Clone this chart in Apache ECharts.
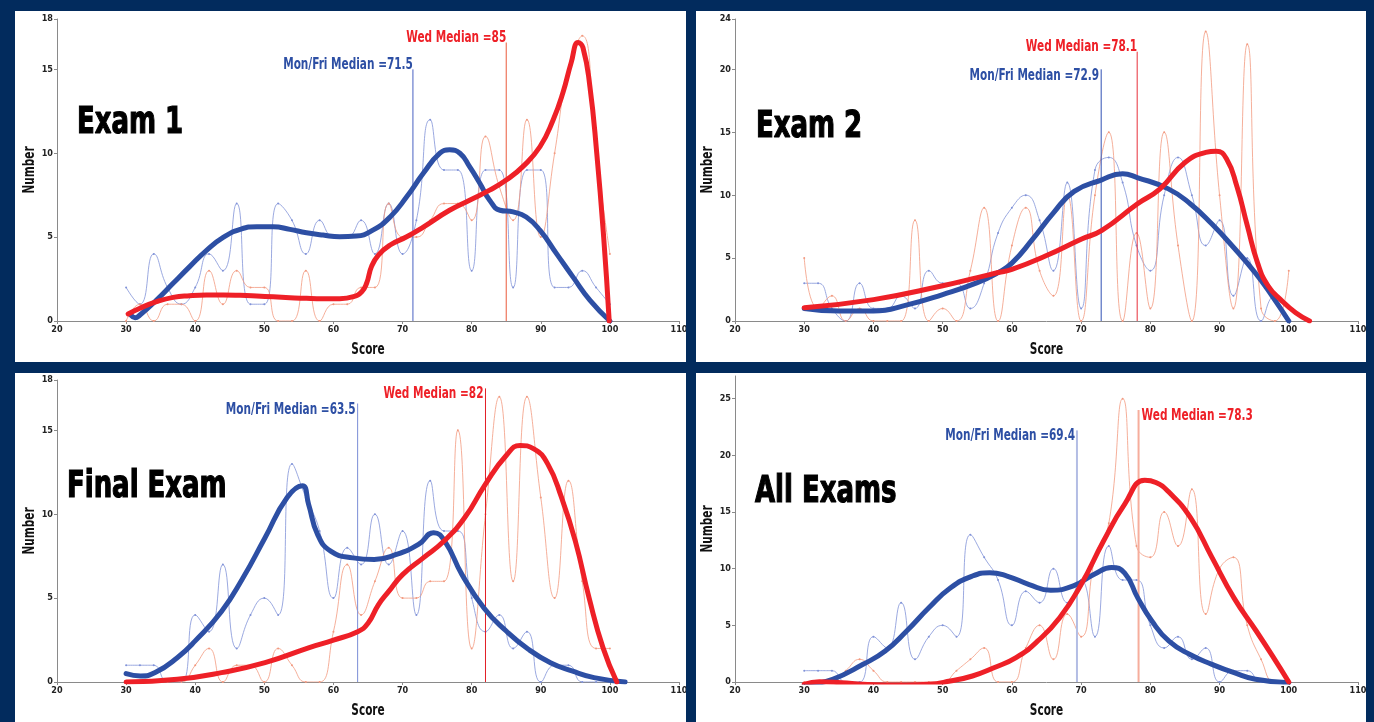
<!DOCTYPE html>
<html>
<head>
<meta charset="utf-8">
<script src="https://cdn.jsdelivr.net/npm/echarts@6/dist/echarts.min.js"></script>
<style>
html,body{margin:0;padding:0;background:#022b5d;width:1374px;height:722px;overflow:hidden}
.p{position:absolute;background:#ffffff}
</style>
</head>
<body>
<div id="c1" class="p" style="left:15px;top:11px;width:671px;height:351px"></div>
<div id="c2" class="p" style="left:696px;top:11px;width:670px;height:351px"></div>
<div id="c3" class="p" style="left:15px;top:373px;width:671px;height:349px"></div>
<div id="c4" class="p" style="left:696px;top:373px;width:670px;height:349px"></div>
<script>
// ---------- DATA ----------
const scoreBins = [30,32,34,36,38,40,42,44,46,48,50,52,54,56,58,60,62,64,66,68,70,72,74,76,78,80,82,84,86,88,90,92,94,96,98,100];

const panelTitles = ['Exam 1', 'Exam 2', 'Final Exam', 'All Exams'];
const yMaxes = [18, 24, 18, 27];
const xAxisName = 'Score';
const yAxisName = 'Number';

// raw counts per score bin (thin lines)
const exam1MonFriCounts = [2,1,4,2,1,2,4,3,7,1,1,7,6,4,6,5,5,6,4,7,4,6,12,9,9,3,9,9,2,9,9,2,2,3,2,1];
const exam1WedCounts    = [0,1,0,1,1,0,3,1,3,2,2,0,0,3,0,1,1,2,2,7,5,5,6,7,7,6,11,8,6,12,5,10,15,17,10,4];
const exam2MonFriCounts = [3,3,1,0,3,1,1,2,1,4,3,3,1,3,7,9,10,8,4,11,1,12,13,11,6,4,10,13,10,6,8,2,5,0,2,1];
const exam2WedCounts    = [5,1,2,0,1,0,0,0,8,0,1,0,4,9,0,6,9,4,2,10,0,10,15,0,7,1,15,6,0,23,10,1,22,1,0,4];
const finalMonFriCounts = [1,1,1,0,0,4,3,7,2,4,5,4,13,11,9,5,8,7,10,7,9,4,12,9,9,5,3,4,2,3,0,1,1,0,0,0];
const finalWedCounts    = [0,0,0,0,0,1,2,0,1,1,0,2,1,0,0,3,7,4,6,8,5,5,6,6,15,2,10,17,6,17,11,5,12,6,2,2];
const allMonFriCounts   = [1,1,1,0,0,4,3,7,2,4,5,4,13,11,9,5,8,7,10,7,9,4,12,9,9,5,3,4,2,3,0,1,1,0,0,0];
const allWedCounts      = [0,0,0,1,2,1,0,0,0,0,0,1,2,3,0,0,3,5,2,6,4,11,14,25,12,11,15,12,17,6,10,11,5,2,0,0];

// smoothed fits (thick lines): [score, number]
const exam1MonFriFit = [[30.7,0.35],[31.3,0.2],[32.0,0.36],[34.4,1.25],[36.8,2.25],[39.2,3.24],[41.6,4.2],[44.1,5.0],[46.5,5.46],[48.9,5.62],[51.3,5.62],[53.7,5.46],[56.1,5.26],[58.5,5.12],[60.9,5.02],[63.3,5.06],[65.7,5.42],[68.2,6.2],[70.6,7.4],[73.0,8.8],[75.4,10.0],[76.8,10.2],[78.3,10.0],[79.7,9.2],[81.2,8.2],[82.6,7.2],[84.1,6.6],[86.0,6.5],[87.9,6.2],[89.9,5.4],[92.3,4.0],[94.7,2.6],[97.1,1.25],[100,0]];
const exam1WedFit = [[30.3,0.42],[32.0,0.76],[34.4,1.15],[36.8,1.41],[39.2,1.51],[41.6,1.55],[44.1,1.55],[46.5,1.53],[48.9,1.49],[51.3,1.44],[53.7,1.39],[56.1,1.35],[58.5,1.33],[60.9,1.33],[62.9,1.45],[64.1,1.75],[64.8,2.25],[65.5,3.24],[66.5,3.93],[68.2,4.53],[70.6,5.02],[73.0,5.6],[76.8,6.6],[79.7,7.2],[82.6,7.8],[85.0,8.4],[87.4,9.2],[89.9,10.4],[91.8,12.0],[93.2,13.6],[94.4,15.4],[95.4,16.6],[96.1,16.3],[97.1,14.0],[98.1,10.0],[99.1,5.0],[99.9,0]];
const exam2MonFriFit = [[30,1.0],[35,0.8],[40,0.8],[45,1.3],[50,2.1],[55,3.05],[58,3.85],[60,4.6],[63,6.5],[66,8.6],[69,10.3],[72.9,11.2],[76,11.7],[78.1,11.4],[82.6,10.5],[85.8,9.3],[88.9,7.7],[92.1,5.8],[95.2,3.8],[97.7,1.9],[100,0]];
const exam2WedFit = [[30,1.06],[40,1.7],[50,2.8],[55,3.45],[58,3.85],[60,4.1],[65,5.2],[70,6.5],[73,7.2],[78.1,9.3],[81.4,10.5],[85,12.6],[88,13.4],[89.5,13.5],[91,12.9],[92.5,10.7],[94,7.6],[95.5,4.6],[97,2.8],[99,1.6],[101,0.66],[103,0]];
const finalMonFriFit = [[30,0.5],[32.1,0.36],[34.2,0.56],[37.4,1.45],[40,2.45],[43.8,4.2],[46.9,6.2],[50.1,8.6],[53.3,11.0],[55.5,11.7],[56.4,10.6],[57.7,8.8],[59.6,7.8],[62.8,7.4],[65.9,7.3],[69.1,7.6],[72.3,8.2],[74.5,8.9],[76.1,8.4],[78.6,6.4],[81.8,4.4],[85.0,3.04],[88.2,1.95],[91.4,1.15],[94.5,0.66],[97.7,0.26],[102.2,0]];
const finalWedFit = [[30,0],[37.4,0.16],[43.8,0.56],[50.1,1.15],[56.5,2.05],[60,2.5],[63.5,3.0],[65,3.5],[66.5,4.6],[68,5.4],[70,6.4],[73,7.4],[76,8.4],[79,9.8],[82,11.8],[85,13.5],[87,14.1],[89,13.9],[91,13.0],[93,11.0],[95,8.4],[97,5.0],[99,2.05],[101,0]];
const allMonFriFit = [[30,-0.3],[34.1,0.24],[38.5,1.56],[41.7,2.73],[44.8,4.5],[48.0,6.55],[51.1,8.3],[54.3,9.35],[56.8,9.64],[59.3,9.35],[62.5,8.6],[65.6,8.1],[68.8,8.46],[71.9,9.5],[74.4,10.1],[76.3,9.6],[78.2,7.4],[80.2,5.4],[82.7,3.6],[85.8,2.4],[88.9,1.56],[92.1,0.82],[95.2,0.24],[100,-0.06]];
const allWedFit = [[30,-0.2],[32.2,0.03],[35.4,-0.06],[38.5,-0.2],[41.7,-0.26],[44.8,-0.26],[48,-0.2],[51.1,0.09],[54.3,0.53],[57.4,1.26],[60.6,2.15],[63.7,3.6],[66.9,5.67],[70.0,8.6],[73.2,12.4],[76.3,15.7],[79.2,17.8],[80.8,17.6],[82.6,16.8],[85.8,14.5],[88.9,11.0],[92.1,7.4],[95.3,4.5],[97.8,2.15],[100,0]];

// medians [Mon/Fri, Wed] and heights of the median marker lines
const exam1Medians = [71.5, 85];
const exam2Medians = [72.9, 78.1];
const finalMedians = [63.5, 82];
const allMedians   = [69.4, 78.3];
const medianLineTops = [[15.0, 16.6], [20.0, 21.4], [16.6, 17.5], [22.2, 24.0]];

// ---------- STYLE ----------
const FONT = "'DejaVu Sans Condensed','DejaVu Sans',sans-serif";
const NARROW_SCALE = 0.78;
const BLUE = '#2d4fa4', RED = '#ee2027';
const BLUE_THIN = '#8193d8', RED_THIN = '#f29a80';

const panels = [
  {el:'c1', title:panelTitles[0], yMax:yMaxes[0], mf:exam1MonFriCounts, wd:exam1WedCounts, mfFit:exam1MonFriFit, wdFit:exam1WedFit, med:exam1Medians, tops:medianLineTops[0],
   grid:{left:42,top:8,width:622,height:302}, titleX:62, titleY:112,
   medColors:['#4a62c2','#ea5a3c'], medWidth:1,
   labels:[{mode:'top'},{mode:'top'}]},
  {el:'c2', title:panelTitles[1], yMax:yMaxes[1], mf:exam2MonFriCounts, wd:exam2WedCounts, mfFit:exam2MonFriFit, wdFit:exam2WedFit, med:exam2Medians, tops:medianLineTops[1],
   grid:{left:39,top:8,width:623,height:302}, titleX:60, titleY:116,
   medColors:['#3050b4','#e8303a'], medWidth:1,
   labels:[{mode:'left',dy:7},{mode:'top'}]},
  {el:'c3', title:panelTitles[2], yMax:yMaxes[2], mf:finalMonFriCounts, wd:finalWedCounts, mfFit:finalMonFriFit, wdFit:finalWedFit, med:finalMedians, tops:medianLineTops[2],
   grid:{left:42,top:7,width:622,height:302}, titleX:52, titleY:114,
   medColors:['#7b8dd6','#e21f26'], medWidth:1,
   labels:[{mode:'left',dy:7},{mode:'left',dy:6}]},
  {el:'c4', title:panelTitles[3], yMax:yMaxes[3], mf:allMonFriCounts, wd:allWedCounts, mfFit:allMonFriFit, wdFit:allWedFit, med:allMedians, tops:medianLineTops[3],
   grid:{left:39,top:3,width:623,height:306}, titleX:59, titleY:119,
   medColors:['#b3bde4','#f6ad9c'], medWidth:2, hideMax:true,
   labels:[{mode:'left',dy:6},{mode:'right',dy:6}]}
];

function pairs(counts){ return scoreBins.map((s,i)=>[s,counts[i]]); }

function buildOption(p){
  const series = [];
  series.push({type:'line', data:pairs(p.mf), smooth:0.5, symbol:'circle', symbolSize:2, z:2,
    lineStyle:{color:BLUE_THIN,width:0.8}, itemStyle:{color:BLUE_THIN}});
  series.push({type:'line', data:pairs(p.wd), smooth:0.5, symbol:'circle', symbolSize:2, z:2,
    lineStyle:{color:RED_THIN,width:0.8}, itemStyle:{color:RED_THIN}});
  for (let k=0;k<2;k++){
    series.push({type:'line', data:[[p.med[k],0],[p.med[k],p.tops[k]]], symbol:'none', z:3,
      lineStyle:{color:p.medColors[k], width:p.medWidth}});
  }
  series.push({type:'line', data:p.mfFit, smooth:0.5, symbol:'none', z:4,
    lineStyle:{color:BLUE,width:5,cap:'round',join:'round'}});
  series.push({type:'line', data:p.wdFit, smooth:0.5, symbol:'none', z:5,
    lineStyle:{color:RED,width:5,cap:'round',join:'round'}});

  const axisCommon = {
    axisLine:{show:true, lineStyle:{color:'#8a8a8a', width:1}},
    axisTick:{show:true, length:3, lineStyle:{color:'#8a8a8a'}},
    splitLine:{show:false}
  };
  return {
    animation:false,
    backgroundColor:'transparent',
    grid:Object.assign({containLabel:false, outerBoundsMode:'none'}, p.grid),
    xAxis:Object.assign({type:'value', min:20, max:110, interval:10,
      axisLabel:{fontFamily:FONT, fontWeight:'bold', fontSize:9, color:'#222', margin:4}}, axisCommon),
    yAxis:Object.assign({type:'value', min:0, max:p.yMax, interval:5,
      axisLabel:{fontFamily:FONT, fontWeight:'bold', fontSize:9, color:'#222', margin:4, showMaxLabel: !p.hideMax}}, axisCommon),
    series:series
  };
}

function narrowText(x, y, text, size, color, align, vAlign, rotation, strokeW){
  const style = {text:text, font:'bold ' + size + 'px ' + FONT, fill:color,
      align:align, textAlign:align, verticalAlign:vAlign, textVerticalAlign:vAlign};
  if (strokeW) { style.stroke = color; style.lineWidth = strokeW; }
  return {type:'text', x:x, y:y, rotation:rotation||0, scaleX:NARROW_SCALE, scaleY:1, z:20, style:style};
}

function buildGraphics(chart, p){
  const g = p.grid;
  const els = [];
  els.push(narrowText(p.titleX, p.titleY, p.title, 37, '#000', 'left', 'middle', 0, 1.2));
  els.push(narrowText(g.left + g.width/2, g.top + g.height + 29, xAxisName, 15, '#111', 'center', 'middle'));
  els.push(narrowText(g.left - 27, g.top + g.height/2, yAxisName, 15, '#111', 'center', 'middle', Math.PI/2));
  const names = ['Mon/Fri Median =', 'Wed Median ='];
  const colors = [BLUE, RED];
  for (let k=0;k<2;k++){
    const pt = chart.convertToPixel({gridIndex:0}, [p.med[k], p.tops[k]]);
    const L = p.labels[k];
    const txt = names[k] + p.med[k];
    if (L.mode === 'top') els.push(narrowText(pt[0], pt[1] + 3, txt, 15, colors[k], 'right', 'bottom'));
    else if (L.mode === 'left') els.push(narrowText(pt[0] - 2, pt[1] + L.dy, txt, 15, colors[k], 'right', 'middle'));
    else els.push(narrowText(pt[0] + 3, pt[1] + L.dy, txt, 15, colors[k], 'left', 'middle'));
  }
  return els;
}

panels.forEach(p=>{
  const chart = echarts.init(document.getElementById(p.el), null, {renderer:'canvas'});
  chart.setOption(buildOption(p));
  chart.setOption({graphic:{elements:buildGraphics(chart, p)}});
});
</script>
</body>
</html>
